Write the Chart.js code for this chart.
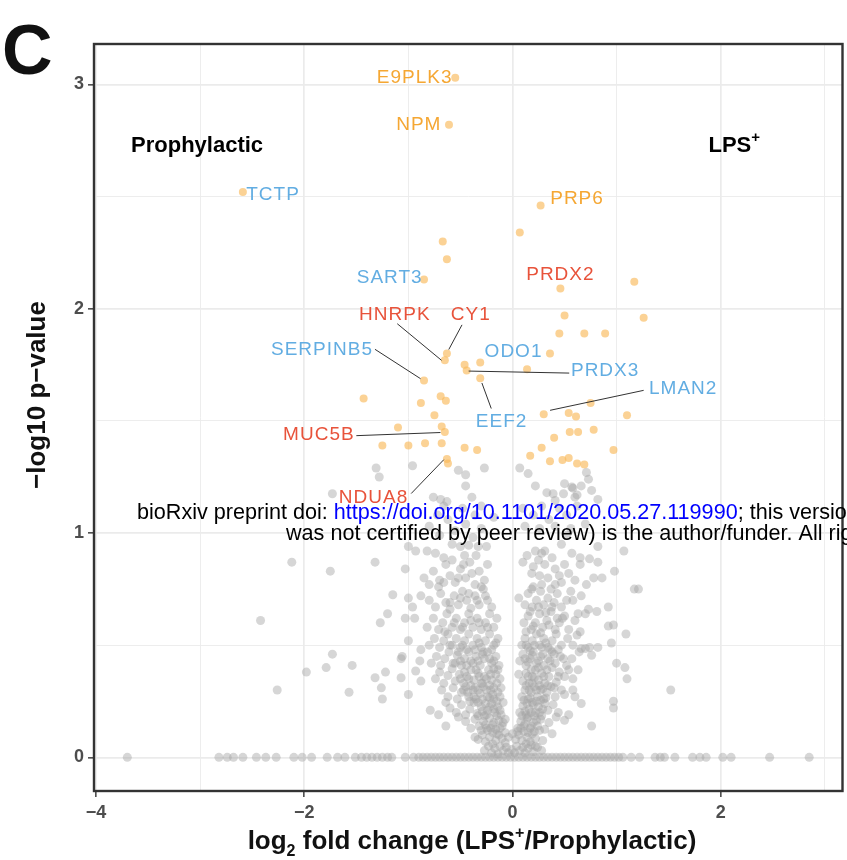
<!DOCTYPE html>
<html lang="en">
<head>
<meta charset="UTF-8">
<title>Volcano plot</title>
<script src="https://cdn.jsdelivr.net/npm/chart.js@4.4.0/dist/chart.umd.min.js"></script>
<style>
  html, body { margin: 0; padding: 0; background: #fff; }
  canvas { display: block; }
</style>
</head>
<body>
<canvas id="volcano" width="847" height="860"></canvas>
<script>
// proteins with p = 1, they all sit on the zero line
const zeroLineX = [-3.70, -2.82, -2.74, -2.68, -2.59, -2.46, -2.37, -2.27, -2.10, -2.02, -1.93, -1.78,
  -1.68, -1.61, -1.51, -1.45, -1.40, -1.35, -1.30, -1.25, -1.20, -1.16, -1.03, -0.95, -0.90, -0.86,
  -0.82, -0.78, -0.74, -0.70, -0.66, -0.62, -0.58, -0.54, -0.50, -0.46, -0.42, -0.38, -0.34, -0.30,
  -0.26, -0.22, -0.18, -0.14, -0.10, -0.06, -0.02, 0.02, 0.06, 0.10, 0.14, 0.18, 0.22, 0.26, 0.30,
  0.34, 0.38, 0.42, 0.46, 0.50, 0.54, 0.58, 0.62, 0.66, 0.70, 0.74, 0.78, 0.82, 0.86, 0.90, 0.94,
  0.98, 1.02, 1.06, 1.14, 1.22, 1.37, 1.42, 1.46, 1.56, 1.73, 1.80, 1.86, 2.02, 2.10, 2.47, 2.85];

// remaining non-significant proteins: [log2FC, -log10 p]
const cloudPoints = [
  // bottom of the V
  [-0.27, 0.03], [-0.23, 0.05], [-0.20, 0.02], [-0.17, 0.04], [-0.14, 0.015], [-0.12, 0.05], [-0.09, 0.03],
  [-0.06, 0.045], [-0.04, 0.02], [-0.01, 0.035], [0.02, 0.02], [0.04, 0.05], [0.07, 0.03], [0.10, 0.045],
  [0.12, 0.02], [0.15, 0.04], [0.18, 0.055], [0.20, 0.025], [0.24, 0.045], [0.28, 0.03], [0.22, 0.05],
  [-0.19, 0.06], [0.13, 0.06], [-0.07, 0.065],
  [-0.33, 0.08], [-0.29, 0.10], [-0.26, 0.07], [-0.22, 0.09], [-0.19, 0.11], [-0.16, 0.075], [-0.13, 0.10],
  [-0.10, 0.085], [-0.07, 0.11], [-0.04, 0.09], [0.03, 0.08], [0.06, 0.10], [0.09, 0.075], [0.11, 0.115],
  [0.14, 0.09], [0.17, 0.07], [0.19, 0.105], [0.22, 0.085], [0.26, 0.12], [0.29, 0.075], [0.38, 0.105],
  [-0.36, 0.09], [0.00, 0.105], [-0.24, 0.12],
  [-0.64, 0.14], [-0.45, 0.16], [-0.40, 0.13], [-0.36, 0.17], [-0.32, 0.14], [-0.28, 0.16], [-0.25, 0.13],
  [-0.22, 0.175], [-0.19, 0.145], [-0.16, 0.125], [-0.13, 0.165], [-0.10, 0.14], [-0.07, 0.17], [0.05, 0.13],
  [0.08, 0.16], [0.11, 0.14], [0.14, 0.175], [0.17, 0.13], [0.20, 0.155], [0.24, 0.14], [0.27, 0.17],
  [0.31, 0.125], [0.35, 0.155], [0.42, 0.18], [0.50, 0.165], [0.76, 0.14], [-0.52, 0.18],
  [-0.30, 0.12], [-0.26, 0.145], [-0.21, 0.13], [-0.18, 0.155], [-0.15, 0.105], [-0.12, 0.13], [-0.09, 0.155],
  [0.05, 0.115], [0.08, 0.13], [0.12, 0.15], [0.15, 0.11], [0.18, 0.14], [0.21, 0.115], [0.23, 0.165],
  // the two arms
  [-0.79, 0.21], [-0.71, 0.19], [-0.60, 0.22], [-0.54, 0.20], [-0.49, 0.235], [-0.45, 0.19], [-0.41, 0.215],
  [-0.37, 0.245], [-0.34, 0.195], [-0.30, 0.225], [-0.27, 0.185], [-0.24, 0.21], [-0.20, 0.24], [-0.17, 0.20],
  [-0.14, 0.225], [-0.11, 0.19], [-0.09, 0.245], [0.07, 0.20], [0.10, 0.23], [0.13, 0.19], [0.16, 0.215],
  [0.19, 0.245], [0.22, 0.20], [0.25, 0.225], [0.28, 0.185], [0.31, 0.24], [0.34, 0.21], [0.39, 0.235],
  [0.44, 0.20], [0.54, 0.19], [0.60, 0.27], [0.66, 0.24], [0.97, 0.22], [0.97, 0.25], [-0.64, 0.245],
  [-0.33, 0.185], [-0.29, 0.205], [-0.25, 0.19], [-0.22, 0.225], [-0.18, 0.215], [-0.15, 0.185], [-0.12, 0.21],
  [0.09, 0.185], [0.12, 0.205], [0.15, 0.18], [0.18, 0.20], [0.21, 0.185], [0.26, 0.20], [0.29, 0.215],
  [-1.00, 0.28], [-1.25, 0.26], [-1.26, 0.31], [-1.57, 0.29], [-2.26, 0.30], [1.52, 0.30], [-0.68, 0.30],
  [-0.62, 0.27], [-0.57, 0.31], [-0.53, 0.26], [-0.49, 0.29], [-0.45, 0.315], [-0.42, 0.27], [-0.38, 0.30],
  [-0.35, 0.26], [-0.31, 0.285], [-0.28, 0.315], [-0.24, 0.27], [-0.21, 0.30], [-0.18, 0.26], [-0.14, 0.29],
  [-0.11, 0.31], [0.09, 0.27], [0.12, 0.30], [0.15, 0.26], [0.18, 0.29], [0.21, 0.315], [0.24, 0.27],
  [0.27, 0.30], [0.30, 0.26], [0.33, 0.29], [0.37, 0.315], [0.41, 0.27], [0.47, 0.30], [0.50, 0.28], [0.58, 0.30],
  [-0.41, 0.25], [-0.37, 0.27], [-0.33, 0.245], [-0.29, 0.26], [-0.26, 0.24], [-0.22, 0.265], [-0.19, 0.28],
  [-0.15, 0.25], [-0.12, 0.27], [0.11, 0.255], [0.14, 0.24], [0.17, 0.265], [0.20, 0.235], [0.23, 0.25],
  [0.27, 0.255], [0.32, 0.265],
  [-0.88, 0.34], [-1.07, 0.355], [-1.32, 0.355], [-1.22, 0.38], [-0.93, 0.385], [-1.98, 0.38], [-0.74, 0.35],
  [-0.70, 0.38], [-0.66, 0.33], [-0.62, 0.365], [-0.58, 0.395], [-0.55, 0.34], [-0.51, 0.37], [-0.47, 0.33],
  [-0.44, 0.36], [-0.40, 0.39], [-0.37, 0.345], [-0.33, 0.375], [-0.30, 0.33], [-0.27, 0.36], [-0.23, 0.39],
  [-0.20, 0.345], [-0.16, 0.37], [-0.12, 0.35], [0.06, 0.37], [0.10, 0.34], [0.13, 0.375], [0.16, 0.33],
  [0.19, 0.36], [0.22, 0.39], [0.25, 0.345], [0.28, 0.375], [0.31, 0.33], [0.35, 0.36], [0.42, 0.335],
  [0.45, 0.38], [0.50, 0.36], [0.54, 0.39], [0.63, 0.39], [0.58, 0.35], [1.10, 0.35], [1.08, 0.40], [1.00, 0.42],
  [-0.47, 0.30], [-0.43, 0.29], [-0.40, 0.32], [-0.36, 0.31], [-0.33, 0.30], [-0.29, 0.33], [-0.25, 0.30],
  [-0.22, 0.32], [-0.18, 0.31], [-0.15, 0.33], [0.13, 0.32], [0.16, 0.30], [0.19, 0.33], [0.23, 0.30],
  [0.26, 0.32], [0.29, 0.305], [0.34, 0.32], [0.40, 0.31],
  [-0.50, 0.35], [-0.46, 0.38], [-0.42, 0.35], [-0.35, 0.39], [-0.32, 0.36], [-0.25, 0.35], [-0.21, 0.37],
  [-0.18, 0.395], [-0.14, 0.39], [0.15, 0.36], [0.18, 0.39], [0.21, 0.355], [0.25, 0.40], [0.30, 0.36],
  [0.33, 0.39], [0.38, 0.40], [0.44, 0.36],
  [-1.79, 0.40], [-1.54, 0.41], [-1.73, 0.46], [-1.06, 0.45], [-1.07, 0.44], [-0.89, 0.43], [-0.78, 0.42],
  [-0.73, 0.45], [-0.69, 0.41], [-0.65, 0.44], [-0.61, 0.47], [-0.57, 0.42], [-0.53, 0.455], [-0.49, 0.41],
  [-0.46, 0.44], [-0.42, 0.47], [-0.38, 0.42], [-0.35, 0.45], [-0.31, 0.41], [-0.27, 0.44], [-0.24, 0.47],
  [-0.20, 0.42], [-0.16, 0.45], [-0.13, 0.41], [0.07, 0.43], [0.10, 0.46], [0.13, 0.41], [0.17, 0.44],
  [0.20, 0.47], [0.23, 0.42], [0.27, 0.45], [0.30, 0.41], [0.34, 0.44], [0.38, 0.47], [0.41, 0.42],
  [0.46, 0.45], [0.52, 0.41], [0.57, 0.44], [0.70, 0.485], [0.76, 0.455], [0.64, 0.47],
  [-0.55, 0.42], [-0.50, 0.43], [-0.44, 0.41], [-0.40, 0.43], [-0.33, 0.43], [-0.29, 0.46], [-0.22, 0.44],
  [-0.18, 0.43], [0.12, 0.44], [0.15, 0.425], [0.19, 0.455], [0.25, 0.43], [0.29, 0.46], [0.36, 0.43],
  [0.40, 0.46], [0.49, 0.44],
  [-0.88, 0.48], [-1.00, 0.52], [-0.80, 0.50], [-0.75, 0.53], [-0.70, 0.49], [-0.66, 0.52], [-0.62, 0.55],
  [-0.58, 0.50], [-0.54, 0.53], [-0.50, 0.49], [-0.46, 0.52], [-0.42, 0.55], [-0.38, 0.50], [-0.34, 0.53],
  [-0.30, 0.49], [-0.26, 0.52], [-0.22, 0.55], [-0.18, 0.50], [-0.14, 0.53], [0.09, 0.50], [0.12, 0.53],
  [0.15, 0.49], [0.19, 0.52], [0.23, 0.55], [0.26, 0.50], [0.30, 0.53], [0.34, 0.49], [0.38, 0.52],
  [0.42, 0.55], [0.47, 0.50], [0.53, 0.53], [0.58, 0.50], [0.66, 0.485], [0.74, 0.49], [0.82, 0.49],
  [0.95, 0.51], [1.09, 0.55], [0.62, 0.545],
  [-0.60, 0.50], [-0.52, 0.47], [-0.48, 0.50], [-0.44, 0.48], [-0.36, 0.48], [-0.32, 0.51], [-0.28, 0.47],
  [-0.20, 0.48], [-0.16, 0.51], [0.13, 0.50], [0.17, 0.475], [0.21, 0.50], [0.28, 0.49], [0.32, 0.51],
  [0.36, 0.48], [0.44, 0.48],
  [-2.42, 0.61], [-1.27, 0.60], [-1.20, 0.64], [-1.03, 0.62], [-0.94, 0.62], [-0.82, 0.58], [-0.76, 0.62],
  [-0.71, 0.57], [-0.67, 0.60], [-0.63, 0.64], [-0.58, 0.58], [-0.54, 0.62], [-0.50, 0.57], [-0.46, 0.60],
  [-0.42, 0.64], [-0.38, 0.58], [-0.34, 0.62], [-0.30, 0.57], [-0.26, 0.60], [-0.22, 0.64], [-0.18, 0.58],
  [-0.15, 0.62], [0.11, 0.60], [0.15, 0.63], [0.18, 0.57], [0.22, 0.60], [0.26, 0.64], [0.29, 0.58],
  [0.33, 0.61], [0.37, 0.65], [0.41, 0.57], [0.45, 0.60], [0.50, 0.63], [0.54, 0.57], [0.60, 0.61],
  [0.65, 0.56], [0.81, 0.65], [0.97, 0.59], [0.92, 0.585], [0.70, 0.64],
  [-0.65, 0.56], [-0.56, 0.60], [-0.48, 0.58], [-0.40, 0.61], [-0.32, 0.60], [-0.24, 0.58],
  [0.13, 0.56], [0.20, 0.585], [0.27, 0.555], [0.35, 0.59], [0.43, 0.62], [0.48, 0.62],
  [-0.96, 0.67], [-1.15, 0.725], [-1.00, 0.71], [-0.80, 0.70], [-0.74, 0.67], [-0.69, 0.73], [-0.64, 0.69],
  [-0.60, 0.66], [-0.56, 0.72], [-0.52, 0.68], [-0.48, 0.74], [-0.44, 0.70], [-0.40, 0.665], [-0.36, 0.72],
  [-0.32, 0.68], [-0.28, 0.75], [-0.24, 0.70], [-0.20, 0.67], [0.06, 0.71], [0.12, 0.68], [0.15, 0.73],
  [0.19, 0.67], [0.23, 0.70], [0.27, 0.74], [0.30, 0.68], [0.34, 0.71], [0.38, 0.67], [0.43, 0.73],
  [0.47, 0.67], [0.52, 0.70], [0.56, 0.74], [0.63, 0.64], [0.73, 0.66], [0.92, 0.67], [0.66, 0.72],
  [-0.88, 0.72], [-0.71, 0.76], [-0.80, 0.77], [1.17, 0.75], [1.21, 0.75],
  [-0.60, 0.69], [-0.50, 0.71], [-0.42, 0.73], [-0.34, 0.70], [-0.26, 0.72],
  [0.17, 0.65], [0.25, 0.67], [0.32, 0.645], [0.40, 0.69], [0.58, 0.70],
  // upper part of the arms
  [-1.75, 0.83], [-1.03, 0.84], [-0.85, 0.80], [-0.76, 0.83], [-0.70, 0.79], [-0.64, 0.86], [-0.60, 0.81],
  [-0.55, 0.78], [-0.50, 0.84], [-0.45, 0.80], [-0.41, 0.87], [-0.36, 0.77], [-0.32, 0.83], [-0.27, 0.79],
  [-0.24, 0.86], [0.10, 0.87], [0.14, 0.90], [0.185, 0.82], [0.185, 0.75], [0.25, 0.88], [0.28, 0.77],
  [0.34, 0.80], [0.41, 0.77], [0.41, 0.84], [0.47, 0.78], [0.54, 0.82], [0.60, 0.79], [0.71, 0.77],
  [0.78, 0.80], [0.86, 0.80], [0.98, 0.83], [0.65, 0.86], [0.74, 0.885], [-1.32, 0.87], [-2.12, 0.87],
  [-0.58, 0.88], [0.50, 0.86],
  [-0.66, 0.78], [-0.52, 0.80], [-0.39, 0.82], [-0.30, 0.76], [-0.47, 0.86], [-0.35, 0.90],
  [0.20, 0.76], [0.26, 0.81], [0.37, 0.75], [0.45, 0.81], [0.31, 0.86], [0.20, 0.85],
  [-1.00, 0.94], [-0.93, 0.92], [-0.82, 0.92], [-0.74, 0.91], [-0.66, 0.89], [-0.58, 0.95], [-0.50, 0.94],
  [-0.42, 0.945], [-0.33, 0.94], [-0.25, 0.94], [-0.46, 0.90], [-0.38, 0.98], [0.22, 0.92], [0.28, 0.91],
  [0.31, 0.92], [0.38, 0.89], [0.47, 0.95], [0.57, 0.91], [0.65, 0.89], [0.82, 0.94], [0.82, 0.87],
  [1.07, 0.92], [0.52, 0.99], [-0.70, 0.99],
  [-0.80, 1.03], [-0.62, 1.06], [-0.55, 1.01], [-0.45, 1.04], [-0.36, 1.08], [-0.30, 1.02], [-0.18, 1.07],
  [0.12, 1.03], [0.20, 1.08], [0.26, 1.02], [0.35, 1.06], [0.41, 1.03], [0.52, 1.08], [0.56, 1.02],
  [0.70, 1.04], [-0.72, 1.08], [-0.66, 1.12], [-0.48, 1.11], [-0.30, 1.12], [0.10, 1.11], [0.28, 1.12],
  [0.45, 1.11], [0.62, 1.12],
  [-0.76, 1.16], [-0.69, 1.15], [-0.63, 1.14], [-0.45, 1.21], [-0.45, 1.26], [-0.52, 1.28], [-0.39, 1.16],
  [-0.27, 1.29], [0.07, 1.29], [0.15, 1.265], [0.22, 1.21], [0.33, 1.18], [0.39, 1.175], [0.41, 1.145],
  [0.49, 1.175], [0.50, 1.22], [0.57, 1.205], [0.58, 1.20], [0.62, 1.17], [0.66, 1.21], [0.71, 1.27],
  [0.73, 1.24], [0.76, 1.19], [0.82, 1.15], [0.60, 1.16], [-1.73, 1.175], [-1.31, 1.29], [-1.28, 1.25],
  [-0.96, 1.30]
];

// significant proteins: [log2FC, -log10 p]
const hitPoints = [
  [-2.59, 2.52], [-0.55, 3.03], [-0.61, 2.82], [0.27, 2.46], [0.07, 2.34], [-0.67, 2.30],
  [-0.63, 2.22], [-0.85, 2.13], [0.46, 2.09], [1.17, 2.12], [0.50, 1.97], [1.26, 1.96],
  [0.45, 1.89], [0.69, 1.89], [0.89, 1.89], [-0.63, 1.80], [-0.65, 1.77], [-0.46, 1.75],
  [-0.31, 1.76], [-0.44, 1.725], [0.14, 1.73], [0.36, 1.80], [-0.31, 1.69], [-0.85, 1.68],
  [-1.43, 1.60], [-0.69, 1.61], [-0.64, 1.59], [-0.88, 1.58], [-0.75, 1.525], [0.30, 1.53],
  [0.75, 1.58], [0.54, 1.535], [0.61, 1.52], [1.10, 1.525], [-1.10, 1.47], [-0.68, 1.475],
  [-0.65, 1.45], [0.55, 1.45], [0.63, 1.45], [0.78, 1.46], [0.40, 1.425], [-1.25, 1.39],
  [-1.00, 1.39], [-0.84, 1.40], [-0.68, 1.40], [-0.46, 1.38], [-0.34, 1.37], [0.28, 1.38],
  [0.97, 1.37], [0.17, 1.345], [0.36, 1.32], [0.48, 1.325], [0.54, 1.335], [0.62, 1.31],
  [0.69, 1.305], [-0.63, 1.33], [-0.62, 1.31]
];

// labelled proteins
const labelNames = ['E9PLK3', 'NPM', 'TCTP', 'PRP6', 'SART3', 'PRDX2', 'HNRPK', 'CY1', 'SERPINB5',
  'ODO1', 'PRDX3', 'LMAN2', 'EEF2', 'MUC5B', 'NDUA8'];
const labelTone = ['orange', 'orange', 'blue', 'orange', 'blue', 'red', 'red', 'red', 'blue',
  'blue', 'blue', 'blue', 'blue', 'red', 'red'];
const labelX = [-0.94, -0.90, -2.30, 0.62, -1.18, 0.46, -1.13, -0.40, -1.83, 0.01, 0.89, 1.64, -0.105, -1.86, -1.335];
const labelY = [3.03, 2.82, 2.51, 2.49, 2.14, 2.15, 1.975, 1.975, 1.815, 1.806, 1.725, 1.645, 1.498, 1.436, 1.159];

// label-to-point connectors: [x1, y1, x2, y2]
const leaderSegs = [
  [-1.107, 1.933, -0.682, 1.770],
  [-0.485, 1.928, -0.612, 1.818],
  [-1.321, 1.819, -0.883, 1.688],
  [-0.421, 1.722, 0.545, 1.713],
  [0.361, 1.547, 1.260, 1.636],
  [-0.294, 1.669, -0.204, 1.555],
  [-1.500, 1.434, -0.692, 1.448],
  [-0.973, 1.176, -0.660, 1.327]
];

const xGrid = [-4, -3, -2, -1, 0, 1, 2, 3];
const xTickLabels = [-4, -2, 0, 2];
const yGrid = [0, 0.5, 1, 1.5, 2, 2.5, 3];
const yTickLabels = [0, 1, 2, 3];

const toneColor = { orange: '#f5a733', blue: '#62ade2', red: '#e8533b' };
const fontFamily = '"Liberation Sans", Arial, Helvetica, sans-serif';

const grayData = zeroLineX.map(x => ({ x: x, y: 0 }));
cloudPoints.forEach(p => grayData.push({ x: p[0], y: p[1] }));
const hitData = hitPoints.map(p => ({ x: p[0], y: p[1] }));

function minusFmt(v) {
  return v < 0 ? '\u2212' + Math.abs(v) : String(v);
}

// draws a list of text runs (with optional sub/superscript) centred on cx
function drawRuns(ctx, runs, cx, baseline) {
  let total = 0;
  runs.forEach(r => { ctx.font = r.font; r.w = ctx.measureText(r.t).width; total += r.w; });
  let x = cx - total / 2;
  runs.forEach(r => {
    ctx.font = r.font;
    ctx.textAlign = 'left';
    ctx.textBaseline = 'alphabetic';
    ctx.fillText(r.t, x, baseline + (r.dy || 0));
    x += r.w;
  });
}

const decorations = {
  id: 'decorations',
  beforeDraw(chart) {
    const ctx = chart.ctx;
    ctx.save();
    ctx.fillStyle = '#fff';
    ctx.fillRect(0, 0, chart.width, chart.height);
    ctx.restore();
  },
  afterDatasetsDraw(chart) {
    const ctx = chart.ctx;
    const xs = chart.scales.x, ys = chart.scales.y;
    const area = chart.chartArea;
    ctx.save();

    // connectors
    ctx.strokeStyle = '#333';
    ctx.lineWidth = 1;
    leaderSegs.forEach(s => {
      ctx.beginPath();
      ctx.moveTo(xs.getPixelForValue(s[0]), ys.getPixelForValue(s[1]));
      ctx.lineTo(xs.getPixelForValue(s[2]), ys.getPixelForValue(s[3]));
      ctx.stroke();
    });

    // gene names
    ctx.font = '19px ' + fontFamily;
    ctx.letterSpacing = '1px';
    ctx.textAlign = 'center';
    ctx.textBaseline = 'middle';
    labelNames.forEach((name, i) => {
      ctx.fillStyle = toneColor[labelTone[i]];
      ctx.fillText(name, xs.getPixelForValue(labelX[i]), ys.getPixelForValue(labelY[i]));
    });
    ctx.letterSpacing = '0px';

    // group headers
    ctx.fillStyle = '#000';
    const hy = ys.getPixelForValue(2.70);
    drawRuns(ctx, [{ t: 'Prophylactic', font: 'bold 22px ' + fontFamily }], xs.getPixelForValue(-3.03), hy);
    drawRuns(ctx, [
      { t: 'LPS', font: 'bold 22px ' + fontFamily },
      { t: '+', font: 'bold 15px ' + fontFamily, dy: -10 }
    ], xs.getPixelForValue(2.13), hy);

    // panel border
    ctx.strokeStyle = '#333';
    ctx.lineWidth = 2.4;
    ctx.strokeRect(area.left, area.top, area.right - area.left, area.bottom - area.top);
    ctx.restore();
  },
  afterDraw(chart) {
    const ctx = chart.ctx;
    ctx.save();
    ctx.fillStyle = '#111';

    // axis titles
    drawRuns(ctx, [
      { t: 'log', font: 'bold 26px ' + fontFamily },
      { t: '2', font: 'bold 16px ' + fontFamily, dy: 7 },
      { t: ' fold change (LPS', font: 'bold 26px ' + fontFamily },
      { t: '+', font: 'bold 16px ' + fontFamily, dy: -11 },
      { t: '/Prophylactic)', font: 'bold 26px ' + fontFamily }
    ], 472, 849);

    ctx.translate(45, 395);
    ctx.rotate(-Math.PI / 2);
    drawRuns(ctx, [{ t: '\u2212log10 p\u2212value', font: 'bold 26px ' + fontFamily }], 0, 0);
    ctx.setTransform(1, 0, 0, 1, 0, 0);

    // panel letter
    ctx.fillStyle = '#111';
    ctx.font = 'bold 70px ' + fontFamily;
    ctx.textAlign = 'left';
    ctx.textBaseline = 'alphabetic';
    ctx.fillText('C', 2, 74);

    // preprint stamp across the page
    ctx.font = '21.6px ' + fontFamily;
    let x = 137;
    ctx.fillStyle = '#000';
    ctx.fillText('bioRxiv preprint doi: ', x, 519);
    x += ctx.measureText('bioRxiv preprint doi: ').width;
    ctx.fillStyle = '#0000ff';
    ctx.fillText('https://doi.org/10.1101/2020.05.27.119990', x, 519);
    x += ctx.measureText('https://doi.org/10.1101/2020.05.27.119990').width;
    ctx.fillStyle = '#000';
    ctx.fillText('; this version posted May 28, 2020.', x, 519);
    ctx.fillText('was not certified by peer review) is the author/funder. All rights reserved.', 286, 540);
    ctx.restore();
  }
};

const tickFont = { family: fontFamily, size: 18, weight: 'bold' };

new Chart(document.getElementById('volcano'), {
  type: 'scatter',
  data: {
    datasets: [
      {
        data: grayData,
        backgroundColor: 'rgba(165,165,165,0.45)',
        borderWidth: 0,
        pointRadius: 4.5
      },
      {
        data: hitData,
        backgroundColor: 'rgba(248,182,84,0.62)',
        borderWidth: 0,
        pointRadius: 4
      }
    ]
  },
  options: {
    responsive: false,
    animation: false,
    events: [],
    layout: { padding: { left: 0, top: 44, right: 2, bottom: 0 } },
    plugins: { legend: { display: false }, tooltip: { enabled: false } },
    scales: {
      x: {
        type: 'linear',
        min: -4.02,
        max: 3.17,
        afterBuildTicks: s => { s.ticks = xGrid.map(v => ({ value: v })); },
        afterFit: s => { s.height = 69; },
        border: { display: false },
        grid: {
          color: '#ebebeb',
          lineWidth: c => xTickLabels.includes(c.tick && c.tick.value) ? 1.7 : 0.9,
          tickLength: 6,
          tickColor: c => xTickLabels.includes(c.tick && c.tick.value) ? '#333' : 'rgba(0,0,0,0)',
          tickWidth: 1.4
        },
        ticks: {
          autoSkip: false,
          maxRotation: 0,
          padding: 5,
          color: '#4d4d4d',
          font: tickFont,
          callback: v => xTickLabels.includes(v) ? minusFmt(v) : ''
        }
      },
      y: {
        type: 'linear',
        min: -0.15,
        max: 3.18,
        afterBuildTicks: s => { s.ticks = yGrid.map(v => ({ value: v })); },
        afterFit: s => { s.width = 94; },
        border: { display: false },
        grid: {
          color: '#ebebeb',
          lineWidth: c => yTickLabels.includes(c.tick && c.tick.value) ? 1.7 : 0.9,
          tickLength: 6,
          tickColor: c => yTickLabels.includes(c.tick && c.tick.value) ? '#333' : 'rgba(0,0,0,0)',
          tickWidth: 1.4
        },
        ticks: {
          autoSkip: false,
          padding: 4,
          color: '#4d4d4d',
          font: tickFont,
          callback: v => yTickLabels.includes(v) ? String(v) : ''
        }
      }
    }
  },
  plugins: [decorations]
});
</script>
</body>
</html>
